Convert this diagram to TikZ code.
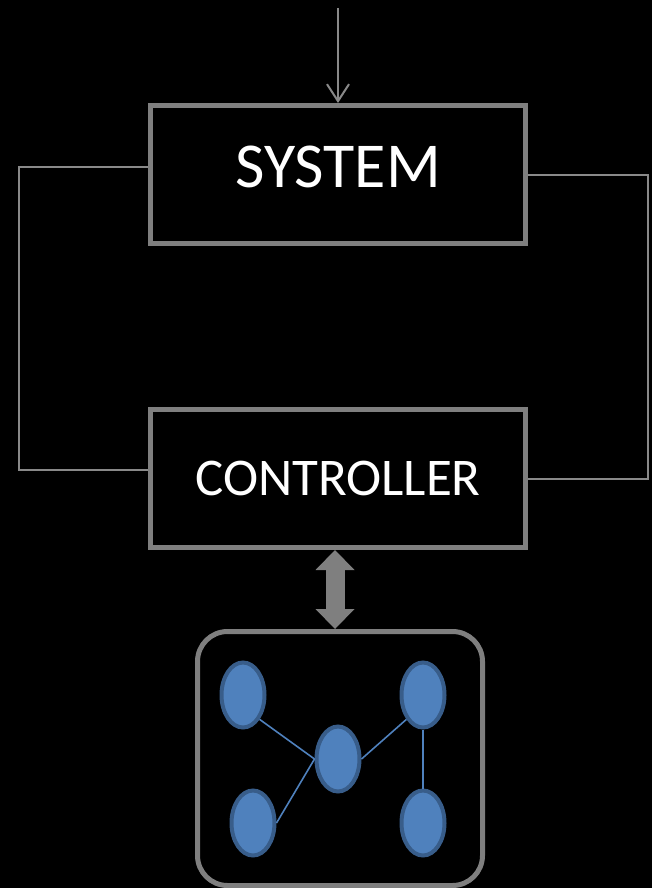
\documentclass[tikz,border=0pt]{standalone}
\usepackage{fontspec}
\setmainfont{Carlito}
\usetikzlibrary{calc, arrows.meta, shapes.geometric}
\definecolor{boxgray}{RGB}{127,127,127}
\definecolor{wiregray}{RGB}{137,137,137}
\definecolor{peerblue}{RGB}{79,129,189}
\definecolor{peeredge}{RGB}{56,93,138}
\tikzset{block/.style={draw=boxgray, line width=5pt, rectangle, minimum width=375pt, minimum height=138pt, inner sep=0pt, text=white},
  wire/.style={draw=wiregray, line width=2pt},
  peer/.style={draw=peeredge, fill=peerblue, ellipse, line width=4pt, minimum width=43pt, minimum height=65pt, inner sep=0pt},
  link/.style={draw=peerblue, line width=1.6pt}}

\begin{document}
\begin{tikzpicture}[x=1pt, y=-1pt]
          \fill[black] (0, 0) rectangle (652, 888);
          \useasboundingbox (0, 0) rectangle (652, 888);

          \node at (338, 174.5) [block, text depth=16pt] (system) {\fontsize{64}{70}\selectfont SYSTEM};
          \node at (338, 478.5) [block] (controller) {\fontsize{53}{60}\selectfont CONTROLLER};

          \coordinate (input) at (338, 8);
          \draw[wire, -{Straight Barb[length=17pt, width=22pt]}] (input) -- (system);

          % feedback loops round both blocks
          \draw[wire] ([yshift=7.5pt]system.west) -- ++(-129.5, 0) |- ([yshift=8.5pt]controller.west);
          \draw[wire] (system.east) -- ++(119.5, 0) |- (controller.east);

          \node at (340, 758.5) [draw=boxgray, line width=5pt, rounded corners=30pt, minimum width=285pt, minimum height=254pt] (net) {};

          \draw[boxgray, line width=19pt, {Triangle[length=20pt, width=39pt, line width=0pt]}-{Triangle[length=20pt, width=39pt, line width=0pt]}]
            ([xshift=-3pt]controller.south) -- ([xshift=-3pt]controller.south |- net.north);

          \foreach \x / \y / \name in {243/695/tl, 423/695/tr, 338/759/hub, 253/823/bl, 423/823/br} {
            \node at (\x, \y) [peer] (\name) {};
          }

          \draw[link] (tl.south east) -- (hub.west);
          \draw[link] (bl.east) -- (hub.west);
          \draw[link] (hub.east) -- (tr.south west);
          \draw[link] (tr.south) -- (br.north);
        \end{tikzpicture}
\end{document}
